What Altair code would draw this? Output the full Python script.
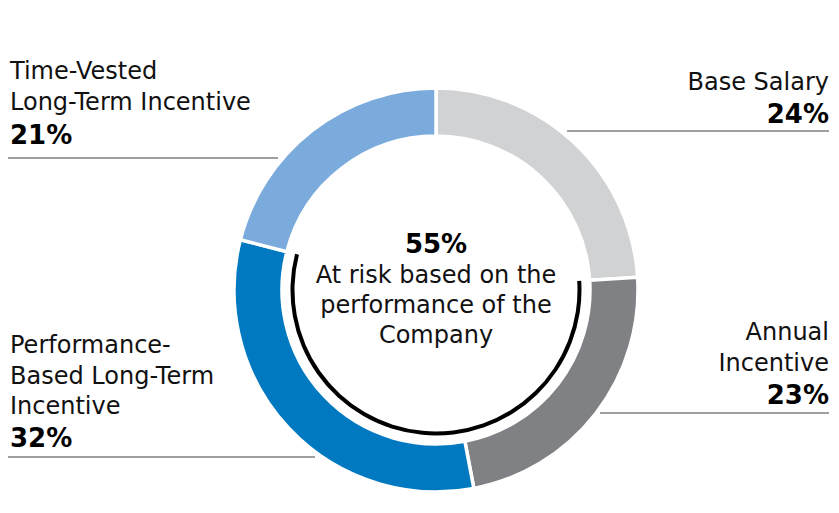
import altair as alt
import pandas as pd

# ---- data ----
categories = ["Base Salary", "Annual Incentive", "Performance-Based Long-Term Incentive", "Time-Vested Long-Term Incentive"]
label_lines = [["Base Salary"], ["Annual", "Incentive"], ["Performance-", "Based Long-Term", "Incentive"], ["Time-Vested", "Long-Term Incentive"]]
shares = [24, 23, 32, 21]
colors = ["#d1d2d4", "#808184", "#0079c1", "#7aabdc"]
at_risk_total = 55
at_risk_lines = ["At risk based on the", "performance of the", "Company"]
at_risk_start = 24   # cumulative % where at-risk pay starts
at_risk_end = 79     # cumulative % where at-risk pay ends

# ---- layout (pixels, chart coordinates) ----
OFF = 8
CX, CY = 436 - OFF, 290 - OFF
FONT = "DejaVu Sans"
FS = 24
LH = 30.5
# label anchor: (x, first baseline y, align, pct baseline y, rule x1, rule x2, rule y)
layout = [
    (829, 90, "right", 123, 567, 829, 131),
    (829, 340, "right", 404, 600, 829, 413),
    (10, 353, "left", 447, 8, 315, 457),
    (10, 79, "left", 144, 8, 278, 158),
]

donut_df = pd.DataFrame({"cat": categories, "share": shares, "order": list(range(len(shares)))})
lab_df = pd.DataFrame({
    "cat": categories,
    "lines": label_lines,
    "pct": [f"{s}%" for s in shares],
    "x": [l[0] - OFF for l in layout],
    "y": [l[1] - OFF for l in layout],
    "align": [l[2] for l in layout],
    "py": [l[3] - OFF for l in layout],
    "rx1": [l[4] - OFF for l in layout],
    "rx2": [l[5] - OFF for l in layout],
    "ry": [l[6] - OFF for l in layout],
})
risk_df = pd.DataFrame({"start": [at_risk_start], "end": [at_risk_end]})
center_df = pd.DataFrame({"head": [f"{at_risk_total}%"], "lines": [at_risk_lines]})

donut = alt.Chart(donut_df).mark_arc(
    radius=202, radius2=154, stroke="white", strokeWidth=3.5
).encode(
    theta=alt.Theta("share:Q", scale=alt.Scale(domain=[0, 100])),
    order=alt.Order("order:Q"),
    color=alt.Color("cat:N", scale=alt.Scale(domain=categories, range=colors), legend=None),
    x=alt.value(CX), y=alt.value(CY),
)

risk_arc = alt.Chart(risk_df).mark_arc(
    radius=145.5, radius2=141.5, color="black"
).encode(
    theta=alt.Theta("start:Q", scale=alt.Scale(domain=[0, 100], range=[0, 6.283185307]), stack=None),
    theta2="end:Q",
    x=alt.value(CX), y=alt.value(CY),
)

layers = [donut, risk_arc]
for al in ["left", "right"]:
    d = lab_df[lab_df["align"] == al]
    names = alt.Chart(d).mark_text(
        font=FONT, fontSize=FS, fontWeight=400, align=al, baseline="alphabetic",
        lineHeight=LH, color="#111111"
    ).encode(
        x=alt.X("x:Q", scale=None), y=alt.Y("y:Q", scale=None), text="lines"
    )
    pcts = alt.Chart(d).mark_text(
        font=FONT, fontSize=FS + 2, fontWeight="bold", align=al, baseline="alphabetic", color="#000000"
    ).encode(
        x=alt.X("x:Q", scale=None), y=alt.Y("py:Q", scale=None), text="pct:N"
    )
    layers += [names, pcts]

rules = alt.Chart(lab_df).mark_rule(color="#7f7f7f", strokeWidth=1.5).encode(
    x=alt.X("rx1:Q", scale=None), x2="rx2:Q", y=alt.Y("ry:Q", scale=None)
)
layers.append(rules)

head = alt.Chart(center_df).mark_text(
    font=FONT, fontSize=FS + 2, fontWeight="bold", align="center", baseline="alphabetic", color="#000000"
).encode(x=alt.value(CX), y=alt.value(253 - OFF), text="head:N")
body = alt.Chart(center_df).mark_text(
    font=FONT, fontSize=FS, fontWeight=400, align="center", baseline="alphabetic",
    lineHeight=30, color="#111111"
).encode(x=alt.value(CX), y=alt.value(283 - OFF), text="lines")
layers += [head, body]

chart = alt.layer(*layers).resolve_scale(theta="independent", color="independent").properties(
    width=823, height=497, padding=0, autosize=alt.AutoSizeParams(type="none")
).configure_view(stroke=None)

chart.save("out.html", embed_options={"renderer": "svg", "actions": False})
